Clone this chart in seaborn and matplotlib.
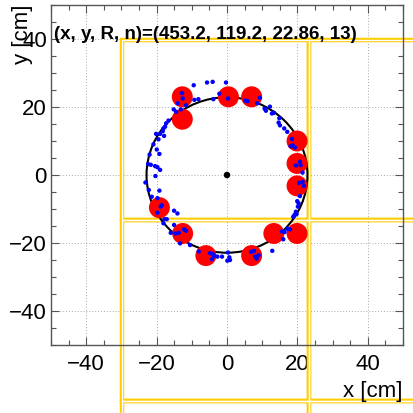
import numpy as np
import pandas as pd
import matplotlib
matplotlib.use("Agg")
import matplotlib.pyplot as plt
import seaborn as sns
from matplotlib.patches import Circle, Rectangle
from matplotlib.ticker import MultipleLocator

# ---------------- data ----------------
hit_x = [-9.46, -5.67, -4.07, -0.28, -2.17, -12.77, -12.58, -14.0, -11.63, -9.27,
         -8.13, -3.88, 0.28, 5.20, 5.86, 9.36, 8.61, 10.69, 11.06, 12.2,
         12.77, 13.33, 14.85, 14.66, 15.04, 16.26, 17.12, -13.14, -15.13, -14.47,
         -16.64, -17.3, -17.59, -18.06, -18.25, -20.14, -19.0, -19.48, -17.87, -20.9,
         -19.95, -19.2, -22.0, -22.4, -21.65, -20.43, -19.76, -19.0, -20.33, -23.17,
         -22.22, -19.2, -21.37, -19.76, -18.53, -18.82, -19.76, -15.04, -14.09, -17.78,
         -17.12, -18.06, -15.04, -15.98, -13.71, -14.66, -12.2, -11.63, -13.33, -10.5,
         18.44, 18.63, 18.06, 19.29, 19.57, 20.71, 20.9, 21.47, 20.52, 21.47,
         21.84, 20.71, 19.95, 20.33, 20.14, 19.57, 19.2, 19.76, 18.82, 15.6,
         16.36, 17.12, 17.87, 15.98, 12.86, -8.04, -4.82, -4.07, -3.69, -4.26,
         -2.74, -1.42, 0.28, 0.66, 0.85, 0.09, 6.9, 7.66, 8.04, 8.98, 8.42]
hit_y = [26.4, 27.2, 27.4, 27.2, 23.9, 24.1, 22.5, 21.1, 20.5, 22.1,
         22.3, 22.3, 22.5, 21.9, 21.7, 22.7, 21.1, 19.5, 18.9, 20.1,
         18.1, 18.3, 16.7, 15.4, 14.6, 13.7, 12.7, 19.3, 19.3, 18.6,
         16.0, 15.2, 14.2, 13.7, 12.9, 12.1, 12.1, 10.5, 11.5, 9.0,
         7.5, 6.2, 6.0, 3.2, 3.0, 2.6, 2.3, 1.5, -0.3, -2.2,
         -4.4, -4.6, -6.4, -6.8, -8.9, -9.3, -11.1, -10.5, -11.3, -13.0,
         -13.0, -14.2, -14.7, -17.0, -17.0, -17.2, -16.0, -16.4, -20.1, -20.6,
         10.6, 8.7, 8.5, 8.1, 2.8, 3.9, 2.9, 0.7, -2.3, -2.0,
         -3.2, -6.2, -7.7, -8.3, -9.3, -10.8, -11.7, -11.5, -12.3, -16.6,
         -16.8, -15.8, -16.0, -18.9, -22.3, -22.5, -23.0, -23.2, -23.8, -24.8,
         -24.0, -24.0, -22.8, -24.2, -25.0, -25.2, -22.6, -22.3, -24.0, -23.6, -24.6]

cluster_x = [-12.7, -12.7, 0.4, 7.0, 19.9, 19.9, 19.9, -19.2, -12.6, 13.3, 19.9, -6.0, 7.0]
cluster_y = [23.0, 16.4, 23.0, 23.0, 10.0, 3.4, -3.2, -9.6, -17.2, -17.2, -17.2, -23.7, -23.7]

fit_x, fit_y, fit_r, fit_n = 0.0, 0.0, 22.86, 13
fit_label = "(x, y, R, n)=(453.2, 119.2, 22.86, 13)"

module_x_edges = [-29.8, 23.4, 76.6]
module_y_edges = [-119.8, -66.5, -13.2, 39.6]

x_title = "x [cm]"
y_title = "y [cm]"

# ---------------- style ----------------
sns.set_style("ticks")
plt.rcParams['font.family'] = ['Liberation Sans', 'DejaVu Sans']
plt.rcParams['text.color'] = 'black'
plt.rcParams['xtick.labelcolor'] = 'black'
plt.rcParams['ytick.labelcolor'] = 'black'

fig = plt.figure(figsize=(4.14, 4.13), dpi=100)
fig.patch.set_facecolor('white')
ax = fig.add_axes([51 / 414, (413 - 345) / 413, 352 / 414, 340 / 413])
ax.set_facecolor('white')

ax.set_xlim(-50, 50)
ax.set_ylim(-50, 50)
ax.set_axisbelow(True)
ax.grid(True, which='major', linestyle=(0, (1.0, 2.0)), color='#a8a8a8', linewidth=0.7)

# detector modules (yellow double outline)
for i in range(len(module_x_edges) - 1):
    for j in range(len(module_y_edges) - 1):
        x0, x1 = module_x_edges[i], module_x_edges[i + 1]
        y0, y1 = module_y_edges[j], module_y_edges[j + 1]
        ax.add_patch(Rectangle((x0, y0), x1 - x0, y1 - y0, fill=False,
                               edgecolor='#FFCC00', linewidth=3.2,
                               clip_on=False, zorder=1.6))
        ax.add_patch(Rectangle((x0, y0), x1 - x0, y1 - y0, fill=False,
                               edgecolor='white', linewidth=1.0,
                               clip_on=False, zorder=1.7))

# fitted circle
ax.add_patch(Circle((fit_x, fit_y), fit_r, fill=False, edgecolor='black',
                    linewidth=1.5, zorder=2.5))

clusters = pd.DataFrame({'x': cluster_x, 'y': cluster_y})
hits = pd.DataFrame({'x': hit_x, 'y': hit_y})
center = pd.DataFrame({'x': [fit_x], 'y': [fit_y]})

sns.scatterplot(data=clusters, x='x', y='y', s=228, color='#FF0000',
                edgecolor='none', linewidth=0, ax=ax, zorder=3, legend=False)
sns.scatterplot(data=hits, x='x', y='y', s=10, color='#0000FF',
                edgecolor='none', linewidth=0, ax=ax, zorder=4, legend=False)
sns.scatterplot(data=center, x='x', y='y', s=22, color='black',
                edgecolor='none', linewidth=0, ax=ax, zorder=5, legend=False)

ax.set_xlabel('')
ax.set_ylabel('')

ax.xaxis.set_major_locator(MultipleLocator(20))
ax.yaxis.set_major_locator(MultipleLocator(20))
ax.xaxis.set_minor_locator(MultipleLocator(5))
ax.yaxis.set_minor_locator(MultipleLocator(5))
ax.tick_params(which='both', direction='in', top=True, right=True,
               color='#555555', width=0.8)
ax.tick_params(which='major', length=6)
ax.tick_params(which='minor', length=3.5)
ax.tick_params(axis='x', which='major', labelsize=16, pad=6.5, labelcolor='black')
ax.tick_params(axis='y', which='major', labelsize=16, pad=3, labelcolor='black')
for sp in ax.spines.values():
    sp.set_visible(True)
    sp.set_color('#555555')
    sp.set_linewidth(1.0)
    sp.set_zorder(6)

ax.text(-49.2, 41.2, fit_label, fontsize=13.5, fontweight='bold', color='black',
        ha='left', va='center', zorder=7)

fig.text(403 / 414, (413 - 396.5) / 413, x_title, fontsize=16, color='black',
         ha='right', va='baseline')
fig.text(22.5 / 414, (413 - 5) / 413, y_title, fontsize=16, rotation=90, color='black',
         ha='center', va='top')

fig.savefig('out.png', dpi=100, facecolor='white')
